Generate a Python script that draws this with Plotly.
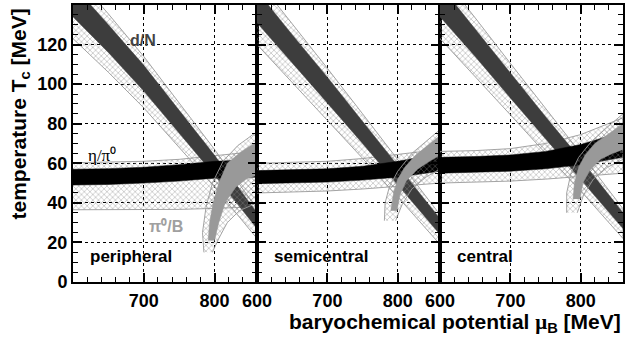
import plotly.graph_objects as go

# ---------------- data ----------------
PANEL_NAMES = ["peripheral", "semicentral", "central"]
X_GRID = [600, 650, 700, 750, 800, 860]          # mu_B [MeV] sample points for straight-ish bands

# d/N band (dark solid core + hatched uncertainty), per panel
DN_CORE_LO = [[134, 116, 96.5, 75.5, 54, 27], [131, 111, 90.5, 70, 49, 24], [134, 114, 93, 72.5, 52, 27]]
DN_CORE_HI = [[150, 130, 109.5, 86.5, 64, 35], [147, 125, 103.5, 81, 59, 32], [150, 128, 106, 83.5, 62, 35]]
DN_HATCH_LO = [[123, 106, 88, 68, 48, 22], [120, 101, 82, 62.5, 43, 19], [123, 104, 84.5, 65, 46, 22]]
DN_HATCH_HI = [[156, 135.5, 114, 90.5, 67, 37], [153, 130.5, 108, 85, 62, 34], [156, 133.5, 110.5, 87.5, 65, 37]]

# eta/pi0 band
ETA_CORE_LO = [[49, 49.3, 50, 51, 52.5, 53], [49.7, 50, 50.5, 51.5, 53, 56], [55, 55.4, 56, 57.2, 59.2, 63]]
ETA_CORE_HI = [[57, 57.3, 58, 59.3, 61, 62], [56.3, 56.6, 57.2, 58.5, 61, 65], [63, 63.4, 64.2, 66, 69.5, 76]]
ETA_HATCH_LO = [[36.5, 36.5, 36.5, 36.7, 37.2, 38], [45, 45.4, 46, 47, 48.5, 50], [50, 50.4, 51, 52, 53.5, 55]]
ETA_HATCH_HI = [[60.3, 60.5, 61, 62, 63.8, 66], [60, 60.4, 61, 62.4, 64.5, 67], [66, 66.4, 67.4, 70, 74.5, 83]]

# pi0/B curved band: upper-left edge and lower-right edge
PI_CORE_UP_X = [[791, 793, 798, 806, 818, 838, 860], [790, 794, 800, 810, 825, 842, 860], [789, 791, 797, 806, 820, 840, 860]]
PI_CORE_UP_Y = [[21, 30, 40, 50, 60, 66, 71], [36, 45, 52, 58, 64, 69, 74], [42, 50, 58, 64, 70, 75, 80]]
PI_CORE_LO_X = [[800, 806, 815, 830, 845, 860], [799, 803, 812, 828, 845, 860], [799, 803, 812, 828, 845, 860]]
PI_CORE_LO_Y = [[21, 30, 40, 48, 52, 54], [36, 44, 51, 57, 61, 64], [42, 50, 56, 62, 65, 67]]
PI_HATCH_UP_X = [[785, 783, 788, 797, 812, 833, 860], [781, 782, 788, 800, 820, 840, 860], [780, 780, 786, 797, 815, 837, 860]]
PI_HATCH_UP_Y = [[15, 25, 38, 50, 61, 69, 76], [31, 40, 48, 56, 65, 71, 77], [35, 45, 55, 63, 71, 78, 85]]
PI_HATCH_LO_X = [[797, 806, 818, 835, 860], [797, 806, 820, 840, 860], [795, 804, 818, 838, 860]]
PI_HATCH_LO_Y = [[15, 22, 30, 36, 40], [31, 39, 47, 53, 57], [35, 44, 52, 58, 62]]

X_TICKS = [[700, 800], [600, 700, 800], [600, 700, 800]]
Y_TICKS = [0, 20, 40, 60, 80, 100, 120]
X_RANGE = [600, 860]
Y_RANGE = [0, 140]

# ---------------- styles ----------------
C_DN = "#3d3d3d"
C_ETA = "#000000"
C_PI = "#999999"
HATCH_LINE = "#9a9a9a"
SANS = "Liberation Sans, Arial, sans-serif"
SERIF = "Liberation Serif, Times New Roman, serif"

fig = go.Figure()


def band(xlo, ylo, xhi, yhi, ax, solid=None, hatch=False):
    xs = list(xlo) + list(xhi)[::-1]
    ys = list(ylo) + list(yhi)[::-1]
    kw = dict(x=xs, y=ys, mode="lines", fill="toself", showlegend=False, hoverinfo="skip",
              xaxis="x" if ax == 1 else f"x{ax}", yaxis="y" if ax == 1 else f"y{ax}")
    if hatch:
        kw.update(line=dict(color=HATCH_LINE, width=0.9), fillcolor="rgba(255,255,255,0)",
                  fillpattern=dict(shape="x", fgcolor="#858585", bgcolor="rgba(255,255,255,0)",
                                   size=4, solidity=0.35))
    else:
        kw.update(line=dict(color=solid, width=0.5), fillcolor=solid)
    fig.add_trace(go.Scatter(**kw))


for i in range(3):
    ax = i + 1
    band(X_GRID, DN_HATCH_LO[i], X_GRID, DN_HATCH_HI[i], ax, hatch=True)
    band(X_GRID, ETA_HATCH_LO[i], X_GRID, ETA_HATCH_HI[i], ax, hatch=True)
    band(X_GRID, DN_CORE_LO[i], X_GRID, DN_CORE_HI[i], ax, solid=C_DN)
    band(X_GRID, ETA_CORE_LO[i], X_GRID, ETA_CORE_HI[i], ax, solid=C_ETA)
    band(PI_HATCH_LO_X[i], PI_HATCH_LO_Y[i], PI_HATCH_UP_X[i], PI_HATCH_UP_Y[i], ax, hatch=True)
    band(PI_CORE_LO_X[i], PI_CORE_LO_Y[i], PI_CORE_UP_X[i], PI_CORE_UP_Y[i], ax, solid=C_PI)

W, H = 641, 341
ML, MR, MT, MB = 73, 18, 3, 59
edges = [0, 184 / 550, 367 / 550, 1]

layout = dict(width=W, height=H, margin=dict(l=ML, r=MR, t=MT, b=MB),
              paper_bgcolor="white", plot_bgcolor="white", showlegend=False)

for i in range(3):
    sfx = "" if i == 0 else str(i + 1)
    layout["xaxis" + sfx] = dict(
        domain=[edges[i], edges[i + 1]], range=X_RANGE, anchor="y" + sfx,
        tickvals=X_TICKS[i], ticks="inside", ticklen=9, tickwidth=1.5, tickcolor="black",
        minor=dict(dtick=20, tick0=600, ticks="inside", ticklen=5, tickwidth=1.2, tickcolor="black", showgrid=False),
        showline=True, linecolor="black", linewidth=2, mirror="ticks",
        showgrid=True, gridcolor="black", griddash="dot", gridwidth=1,
        tickfont=dict(family=SANS, size=18, color="black", weight="bold"), ticklabelstandoff=1,
        zeroline=False, fixedrange=True)
    layout["yaxis" + sfx] = dict(
        domain=[0, 1], range=Y_RANGE, anchor="x" + sfx,
        tickvals=Y_TICKS, ticks="inside", ticklen=9, tickwidth=1.5, tickcolor="black",
        minor=dict(dtick=5, tick0=0, ticks="inside", ticklen=5, tickwidth=1.2, tickcolor="black", showgrid=False),
        showline=True, linecolor="black", linewidth=2, mirror="ticks",
        showgrid=True, gridcolor="black", griddash="dot", gridwidth=1,
        showticklabels=(i == 0),
        tickfont=dict(family=SANS, size=18, color="black", weight="bold"),
        zeroline=False, fixedrange=True)

fig.update_layout(**layout)

# panel labels
ann = []
for i, name in enumerate(PANEL_NAMES):
    sfx = "" if i == 0 else str(i + 1)
    ann.append(dict(x=621, y=13, xref="x" + sfx, yref="y" + sfx, text=name, showarrow=False,
                    xanchor="left", yanchor="middle",
                    font=dict(family=SANS, size=17, color="black", weight="bold")))

ann.append(dict(x=699, y=122, xref="x", yref="y", text="d/N", showarrow=False,
                font=dict(family=SANS, size=16, color="#444444", weight="bold")))
ann.append(dict(x=641, y=64, xref="x", yref="y", text="η/π⁰", showarrow=False,
                font=dict(family=SERIF, size=17, color="black")))
ann.append(dict(x=731, y=28, xref="x", yref="y", text="π⁰/B", showarrow=False,
                font=dict(family=SANS, size=16, color="#a0a0a0", weight="bold")))

# axis titles
ann.append(dict(xref="paper", yref="paper", x=(20 - ML) / 550, y=(282 - 5) / 279,
                text="temperature T<sub>c</sub> [MeV]", textangle=-90, showarrow=False,
                xanchor="center", yanchor="top",
                font=dict(family=SANS, size=21, color="black", weight="bold")))
ann.append(dict(xref="paper", yref="paper", x=1, y=(282 - 323) / 279,
                text="baryochemical potential <span style='font-family:Liberation Serif'>μ</span><sub>B</sub> [MeV]",
                showarrow=False, xanchor="right", yanchor="middle",
                font=dict(family=SANS, size=21, color="black", weight="bold")))
fig.update_layout(annotations=ann)

fig.write_html("out.html")
